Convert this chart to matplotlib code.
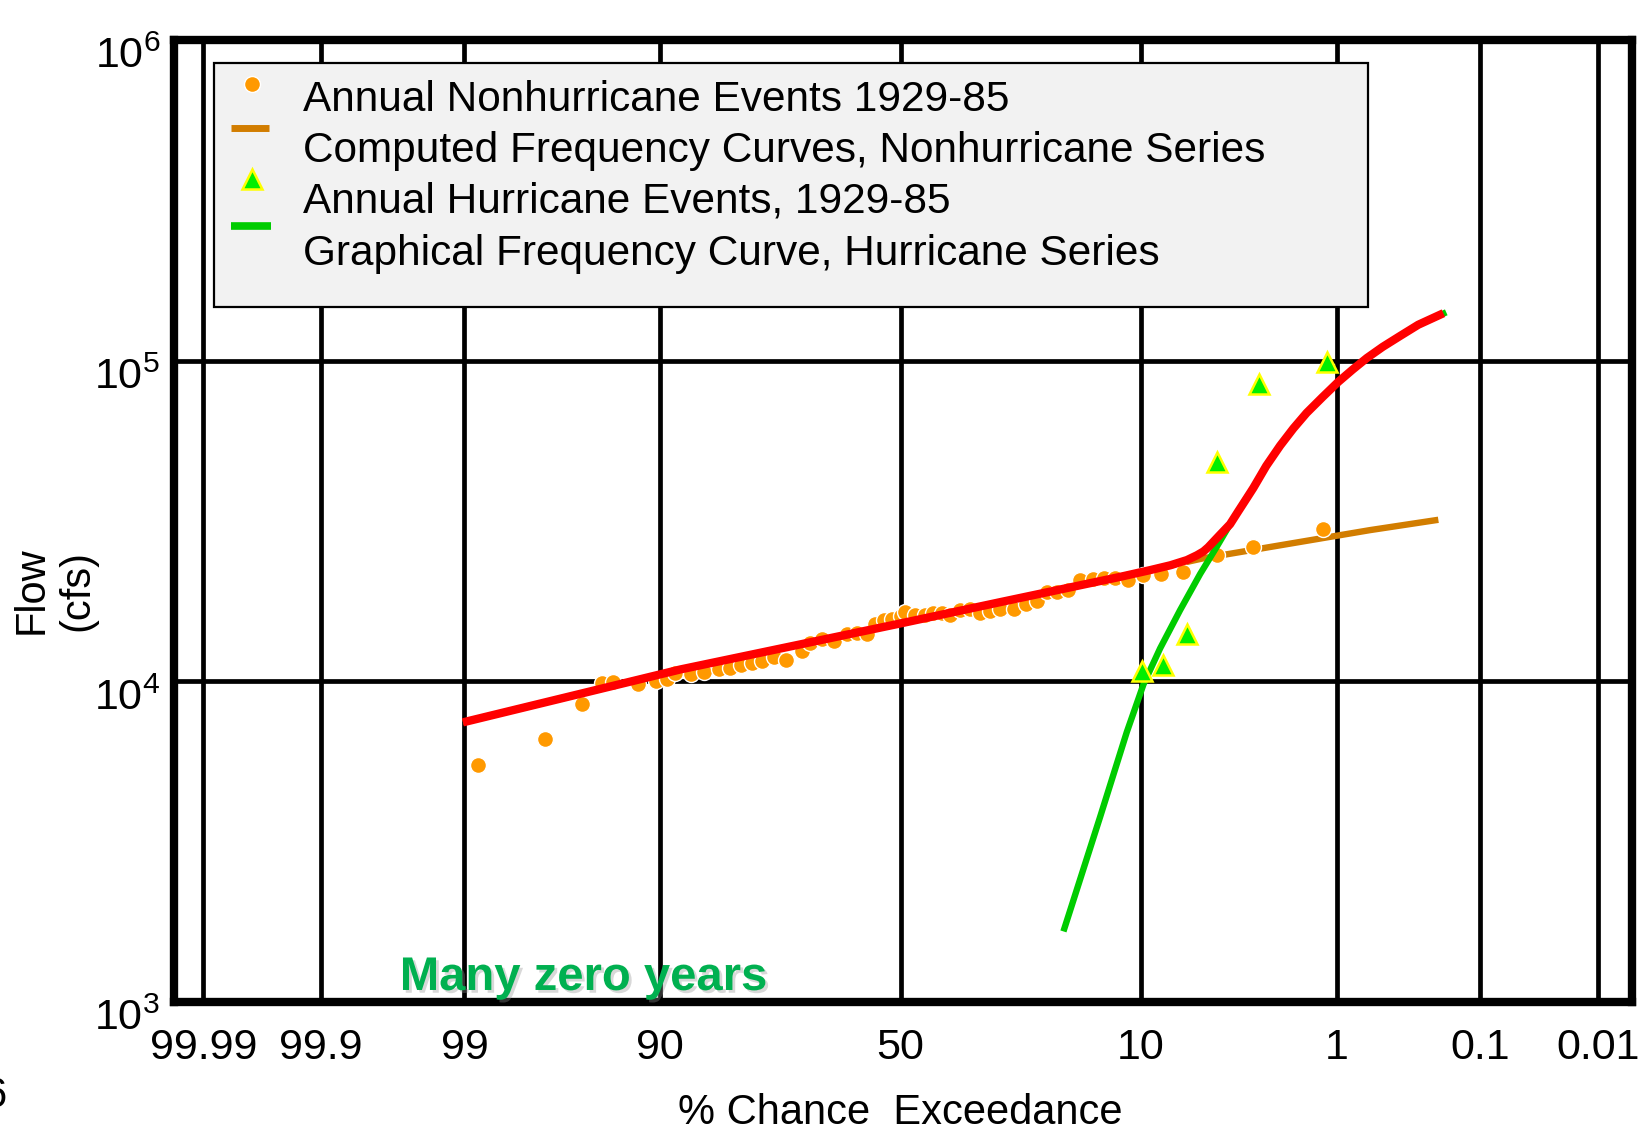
import math
import numpy as np
import matplotlib
matplotlib.use("Agg")
import matplotlib.pyplot as plt
from matplotlib.lines import Line2D
from matplotlib.patches import Rectangle
from matplotlib.transforms import ScaledTranslation
import matplotlib.patheffects as pe

plt.rcParams['font.family'] = ['Liberation Sans', 'DejaVu Sans']
plt.rcParams['mathtext.fontset'] = 'custom'
plt.rcParams['mathtext.rm'] = 'Liberation Sans'
plt.rcParams['mathtext.it'] = 'Liberation Sans:italic'
plt.rcParams['mathtext.bf'] = 'Liberation Sans:bold'

# ---------------------------------------------------------------- data
# Annual non-hurricane peaks: % chance exceedance and flow (cfs)
nonhur_pct = [98.79, 97.09, 95.53, 94.43, 93.75, 91.95, 90.37, 89.36, 88.51, 86.82,
              85.34, 83.42, 81.91, 80.23, 78.61, 77.01, 74.98, 72.91, 70.06, 68.51,
              66.28, 63.98, 61.26, 59.21, 57.14, 55.37, 53.63, 51.83, 49.92, 49.00,
              46.89, 44.79, 43.05, 41.29, 39.59, 37.52, 35.53, 33.58, 31.63, 29.77,
              27.36, 25.14, 23.39, 21.77, 20.24, 18.54, 16.93, 15.27, 13.90, 12.63,
              11.31, 9.77, 8.26, 6.58, 4.59, 3.02, 1.22]
nonhur_flow = [5500, 6630, 8500, 9900, 9980, 9830, 10000, 10190, 10640, 10560,
               10710, 10890, 11020, 11220, 11410, 11540, 11870, 11680, 12450, 13140,
               13560, 13370, 14000, 14100, 14000, 15130, 15490, 15670, 15960, 16440,
               16140, 16050, 16360, 16360, 16130, 16640, 16750, 16360, 16520, 16750,
               16750, 17430, 17840, 19010, 19010, 19280, 20700, 20780, 21040, 21040,
               20700, 21530, 21550, 21890, 24830, 26190, 29930]

# Annual hurricane peaks
hur_pct = [9.92, 8.11, 6.35, 4.59, 2.81, 1.15]
hur_flow = [10760, 11270, 14000, 48400, 84800, 98800]

# Computed frequency curve, non-hurricane series
nh_curve_pct = [99.02, 88.0, 50.0, 9.18, 5.32, 0.616, 0.207]
nh_curve_flow = [7450, 10890, 15160, 22220, 24200, 29620, 31900]

# Graphical frequency curve, hurricane series
h_curve_pct = [19.27, 14.37, 11.39, 9.77, 8.32, 6.81, 5.51, 4.59, 3.95, 3.24,
               3.00, 2.56, 2.15, 1.81, 1.52, 1.22, 0.98, 0.798, 0.646, 0.508,
               0.387, 0.289, 0.181]
h_curve_flow = [1660, 3780, 6950, 9780, 12680, 16670, 21630, 26300, 30900, 37500,
                40100, 46990, 54330, 61520, 68710, 77090, 85900, 93760, 101900, 110400,
                119400, 129400, 141500]

# Combined (mixed population) frequency curve
mix_curve_pct = [99.02, 88.0, 50.0, 29.77, 12.08, 9.18, 7.52, 6.35, 5.71, 5.32,
                 5.05, 4.46, 3.95, 3.59, 3.24, 3.00, 2.56, 2.15, 1.81, 1.52,
                 1.22, 0.98, 0.798, 0.646, 0.508, 0.387, 0.289, 0.190]
mix_curve_flow = [7450, 10890, 15160, 17660, 21180, 22220, 23010, 23880, 24720, 25410,
                  26180, 28510, 30900, 33900, 37330, 40100, 46990, 54330, 61520, 68710,
                  77090, 85900, 93760, 101900, 110400, 119400, 129400, 140600]

x_ticks = [99.99, 99.9, 99, 90, 50, 10, 1, 0.1, 0.01]
x_tick_labels = ['99.99', '99.9', '99', '90', '50', '10', '1', '0.1', '0.01']
y_ticks = [1e3, 1e4, 1e5, 1e6]
y_tick_labels = [r'$10^{3}$', r'$10^{4}$', r'$10^{5}$', r'$10^{6}$']

legend_labels = ['Annual Nonhurricane Events 1929-85',
                 'Computed Frequency Curves, Nonhurricane Series',
                 'Annual Hurricane Events, 1929-85',
                 'Graphical Frequency Curve, Hurricane Series']


# ---------------------------------------------------------------- normal probability scale
_A = [-3.969683028665376e+01, 2.209460984245205e+02, -2.759285104469687e+02,
      1.383577518672690e+02, -3.066479806614716e+01, 2.506628277459239e+00]
_B = [-5.447609879822406e+01, 1.615858368580409e+02, -1.556989798598866e+02,
      6.680131188771972e+01, -1.328068155288572e+01]
_C = [-7.784894002430293e-03, -3.223964580411365e-01, -2.400758277161838e+00,
      -2.549732539343734e+00, 4.374664141464968e+00, 2.938163982698783e+00]
_D = [7.784695709041462e-03, 3.224671290700398e-01, 2.445134137142996e+00,
      3.754408661907416e+00]


def _norm_ppf(q):
    q = np.clip(np.asarray(q, dtype=float), 1e-12, 1 - 1e-12)
    plow = 0.02425
    out = np.empty_like(q)
    with np.errstate(all='ignore'):
        lo = q < plow
        hi = q > 1 - plow
        mid = ~(lo | hi)
        t = np.sqrt(-2 * np.log(q))
        x_lo = (((((_C[0] * t + _C[1]) * t + _C[2]) * t + _C[3]) * t + _C[4]) * t + _C[5]) / \
               ((((_D[0] * t + _D[1]) * t + _D[2]) * t + _D[3]) * t + 1)
        t2 = np.sqrt(-2 * np.log(1 - q))
        x_hi = -(((((_C[0] * t2 + _C[1]) * t2 + _C[2]) * t2 + _C[3]) * t2 + _C[4]) * t2 + _C[5]) / \
               ((((_D[0] * t2 + _D[1]) * t2 + _D[2]) * t2 + _D[3]) * t2 + 1)
        r = q - 0.5
        s = r * r
        x_mid = (((((_A[0] * s + _A[1]) * s + _A[2]) * s + _A[3]) * s + _A[4]) * s + _A[5]) * r / \
                (((((_B[0] * s + _B[1]) * s + _B[2]) * s + _B[3]) * s + _B[4]) * s + 1)
    out[lo] = x_lo[lo]
    out[hi] = x_hi[hi]
    out[mid] = x_mid[mid]
    return out


_erf = np.vectorize(math.erf, otypes=[float])


def pct_to_z(p):
    return _norm_ppf(np.asarray(p, dtype=float) / 100.0)


def z_to_pct(z):
    z = np.asarray(z, dtype=float)
    return 50.0 * (1.0 + _erf(z / math.sqrt(2.0)))


# ---------------------------------------------------------------- figure
fig = plt.figure(figsize=(16.48, 11.31), dpi=100)
ax = fig.add_axes([174 / 1648, 1 - 1002 / 1131, (1632 - 174) / 1648, (1002 - 40) / 1131])

ax.set_xscale('function', functions=(pct_to_z, z_to_pct))
ax.set_yscale('log')
ax.set_xlim(float(z_to_pct(3.875)), float(z_to_pct(-3.90)))
ax.set_ylim(1e3, 1e6)

ax.set_xticks(x_ticks)
ax.set_xticklabels(x_tick_labels)
ax.set_yticks(y_ticks)
ax.set_yticklabels(y_tick_labels)
ax.minorticks_off()
ax.tick_params(axis='x', length=0, pad=19, labelsize=31)
ax.tick_params(axis='y', length=0, pad=10, labelsize=31)
shift_down = ScaledTranslation(0, -9 / 72, fig.dpi_scale_trans)
for lab in ax.get_yticklabels():
    lab.set_transform(lab.get_transform() + shift_down)

ax.set_axisbelow(True)
ax.grid(True, which='major', color='black', linewidth=3.4)
for sp in ax.spines.values():
    sp.set_linewidth(6)
    sp.set_color('black')

# curves and points
ax.plot(nh_curve_pct, nh_curve_flow, color='#D27D00', lw=4.6, zorder=2,
        solid_capstyle='butt')
ax.plot(nonhur_pct, nonhur_flow, 'o', color='#FF9900', ms=11.5, mec='white', mew=1.0,
        zorder=3, linestyle='none')
ax.plot(h_curve_pct, h_curve_flow, color='#00CC00', lw=4.6, zorder=4,
        solid_capstyle='butt', solid_joinstyle='round')
ax.plot(hur_pct, hur_flow, '^', color='#00EE00', ms=15, mec='#FFFF00', mew=1.8,
        zorder=5, linestyle='none')
ax.plot(mix_curve_pct, mix_curve_flow, color='#FF0000', lw=6, zorder=6,
        solid_capstyle='butt', solid_joinstyle='round')

ax.text(0.281, 0.0125, 'Many zero years', transform=ax.transAxes, ha='center',
        va='baseline', fontsize=34, fontweight='bold', color='#00B050', zorder=7,
        path_effects=[pe.SimplePatchShadow(offset=(2, -2), shadow_rgbFace='#909090', alpha=0.35),
                      pe.Normal()])


# legend box
def ax_x(px):
    return (px - 174) / 1458.0


def ax_y(py):
    return (1002 - py) / 962.0


ax.add_patch(Rectangle((ax_x(214), ax_y(307)), ax_x(1368) - ax_x(214), ax_y(63) - ax_y(307),
                       transform=ax.transAxes, facecolor='#F2F2F2', edgecolor='black',
                       lw=1.6, zorder=10))
row_y = [100, 151, 202, 254]
for yy, lab in zip(row_y, legend_labels):
    ax.text(ax_x(303), ax_y(yy), lab, transform=ax.transAxes, ha='left', va='center',
            fontsize=30.5, zorder=11)

ax.add_artist(Line2D([ax_x(252)], [ax_y(84)], transform=ax.transAxes, marker='o',
                     color='#FF9900', ms=11.5, mec='white', mew=1.0, linestyle='none', zorder=11))
ax.add_artist(Line2D([ax_x(231), ax_x(269)], [ax_y(128), ax_y(128)], transform=ax.transAxes,
                     color='#D27D00', lw=5, solid_capstyle='butt', zorder=11))
ax.add_artist(Line2D([ax_x(252)], [ax_y(179)], transform=ax.transAxes, marker='^',
                     color='#00EE00', ms=15, mec='#FFFF00', mew=1.8, linestyle='none', zorder=11))
ax.add_artist(Line2D([ax_x(231), ax_x(271)], [ax_y(226), ax_y(226)], transform=ax.transAxes,
                     color='#00CC00', lw=5.5, solid_capstyle='butt', zorder=11))

# axis titles
fig.text(900 / 1648, 0.0066, '% Chance  Exceedance', ha='center', va='baseline', fontsize=30)
fig.text(0.033, 0.478, 'Flow\n(cfs)', rotation=90, ha='center', va='center',
         multialignment='center', fontsize=30)
fig.text(0.0045, 0.021, '6', ha='right', va='baseline', fontsize=30)

fig.savefig('out.png', dpi=100)
